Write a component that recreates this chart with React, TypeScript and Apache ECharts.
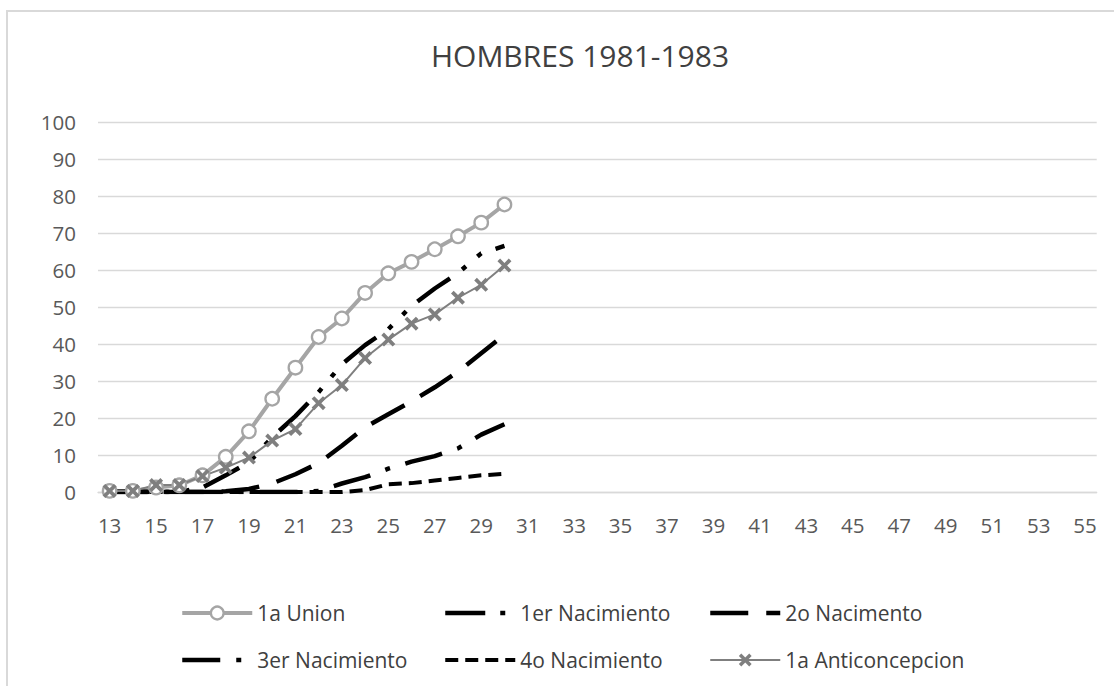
import React, { useEffect, useRef } from "react";
import * as echarts from "echarts";

const categories = [
  "13", "14", "15", "16", "17", "18", "19", "20", "21", "22", "23", "24", "25", "26", "27",
  "28", "29", "30", "31", "32", "33", "34", "35", "36", "37", "38", "39", "40", "41", "42",
  "43", "44", "45", "46", "47", "48", "49", "50", "51", "52", "53", "54", "55",
];

const union1a = [0.3, 0.3, 1.2, 1.8, 4.5, 9.5, 16.4, 25.2, 33.6, 41.9, 46.9, 53.8, 59.1, 62.2, 65.6, 69.1, 72.8, 77.7];
const nac1er = [0, 0, 0, 0, 1.2, 4.5, 8, 14.8, 20.5, 27, 34.5, 39.7, 44, 50.3, 55, 59.2, 64.5, 66.5];
const nac2o = [0, 0, 0, 0, 0, 0.2, 0.8, 2.3, 4.8, 7.8, 12.5, 17.5, 21, 24.5, 28.3, 32.5, 37.5, 42.5];
const nac3er = [0, 0, 0, 0, 0, 0, 0, 0, 0, 0.3, 2.3, 4.0, 6.3, 8.2, 9.7, 11.8, 15.5, 18.3];
const nac4o = [0, 0, 0, 0, 0, 0, 0, 0, 0, 0, 0, 0.5, 2.1, 2.4, 3.1, 3.8, 4.5, 4.9];
const anticoncepcion1a = [0.3, 0.3, 1.9, 1.9, 4.3, 6.6, 9.3, 13.9, 17, 24, 28.9, 36.2, 41.2, 45.5, 48, 52.5, 56, 61.2];

const yTicks = [0, 10, 20, 30, 40, 50, 60, 70, 80, 90, 100];

const TITLE = "HOMBRES 1981-1983";
const FONT = "'Open Sans', 'Noto Sans', sans-serif";

const X_SYMBOL =
  "path://M1.9,0L5,3.1L8.1,0L10,1.9L6.9,5L10,8.1L8.1,10L5,6.9L1.9,10L0,8.1L3.1,5L0,1.9Z";

type Sty = {
  name: string;
  data: number[];
  color: string;
  width: number;
  dash: number[] | "solid";
  symbol: string;
  symbolSize: number;
  itemStyle: any;
};

const styles: Sty[] = [
  {
    name: "1a Union",
    data: union1a,
    color: "#A5A5A5",
    width: 4,
    dash: "solid",
    symbol: "circle",
    symbolSize: 13.5,
    itemStyle: { color: "#FFFFFF", borderColor: "#A5A5A5", borderWidth: 2.3 },
  },
  {
    name: "1er Nacimiento",
    data: nac1er,
    color: "#000000",
    width: 4.5,
    dash: [40, 15, 5, 15, 5, 15],
    symbol: "none",
    symbolSize: 0,
    itemStyle: { color: "rgba(0,0,0,0)", opacity: 0, borderWidth: 0 },
  },
  {
    name: "2o Nacimento",
    data: nac2o,
    color: "#000000",
    width: 4.5,
    dash: [38, 18],
    symbol: "none",
    symbolSize: 0,
    itemStyle: { color: "rgba(0,0,0,0)", opacity: 0, borderWidth: 0 },
  },
  {
    name: "3er Nacimiento",
    data: nac3er,
    color: "#000000",
    width: 4.5,
    dash: [38, 16, 5, 16],
    symbol: "none",
    symbolSize: 0,
    itemStyle: { color: "rgba(0,0,0,0)", opacity: 0, borderWidth: 0 },
  },
  {
    name: "4o Nacimiento",
    data: nac4o,
    color: "#000000",
    width: 4,
    dash: [13, 7],
    symbol: "none",
    symbolSize: 0,
    itemStyle: { color: "rgba(0,0,0,0)", opacity: 0, borderWidth: 0 },
  },
  {
    name: "1a Anticoncepcion",
    data: anticoncepcion1a,
    color: "#7F7F7F",
    width: 2,
    dash: "solid",
    symbol: X_SYMBOL,
    symbolSize: 14,
    itemStyle: { color: "#7F7F7F" },
  },
];

const legendColumns = [
  { left: 180, names: ["1a Union", "3er Nacimiento"] },
  { left: 443, names: ["1er Nacimiento", "4o Nacimiento"] },
  { left: 708, names: ["2o Nacimento", "1a Anticoncepcion"] },
];

export default function App() {
  const ref = useRef<HTMLDivElement>(null);

  useEffect(() => {
    if (!ref.current) return;
    document.body.style.margin = "0";
    const chart = echarts.init(ref.current, null, { renderer: "svg" });

    const byName: Record<string, Sty> = {};
    styles.forEach((s) => (byName[s.name] = s));

    const legends = legendColumns.map((col) => ({
      show: true,
      orient: "vertical",
      left: col.left,
      top: 602.5,
      padding: 0,
      itemGap: 26,
      itemWidth: 70,
      itemHeight: 16,
      selectedMode: false,
      textStyle: { color: "#404040", fontSize: 21, fontFamily: FONT },
      data: col.names.map((n) => {
        const s = byName[n];
        return {
          name: n,
          lineStyle: { color: s.color, width: s.width, type: s.dash },
          itemStyle: s.itemStyle,
        };
      }),
    }));

    const option: any = {
      animation: false,
      backgroundColor: "#FFFFFF",
      title: {
        text: TITLE,
        left: 580,
        top: 40,
        padding: 0,
        textAlign: "center",
        textStyle: {
          color: "#404040",
          fontSize: 30,
          fontWeight: "normal",
          fontFamily: FONT,
        },
      },
      legend: legends,
      graphic: [
        {
          type: "rect",
          silent: true,
          z: -10,
          shape: { x: 7, y: 11, width: 1400, height: 1000 },
          style: { fill: "none", stroke: "#D9D9D9", lineWidth: 2 },
        },
      ],
      grid: {
        left: 98,
        right: 17.3,
        top: 122,
        bottom: 194,
        containLabel: false,
        outerBoundsMode: "none",
      },
      xAxis: {
        type: "category",
        data: categories,
        boundaryGap: true,
        axisLine: { show: true, lineStyle: { color: "#D9D9D9", width: 1.3 } },
        axisTick: { show: false },
        splitLine: { show: false },
        axisLabel: {
          interval: 1,
          margin: 22,
          color: "#595959",
          fontSize: 20.5,
          fontFamily: FONT,
        },
      },
      yAxis: {
        type: "value",
        min: yTicks[0],
        max: yTicks[yTicks.length - 1],
        interval: yTicks[1] - yTicks[0],
        axisLine: { show: false },
        axisTick: { show: false },
        splitLine: { show: true, lineStyle: { color: "#D9D9D9", width: 1.3 } },
        axisLabel: {
          margin: 22,
          color: "#595959",
          fontSize: 20.5,
          fontFamily: FONT,
        },
      },
      series: styles.map((s) => ({
        name: s.name,
        type: "line",
        data: s.data,
        symbol: s.symbol,
        symbolSize: s.symbolSize,
        showSymbol: s.symbol !== "none",
        showAllSymbol: true,
        lineStyle: { color: s.color, width: s.width, type: s.dash, cap: "butt", join: "round" },
        itemStyle: s.itemStyle,
        emphasis: { disabled: true },
        z: 2,
      })),
    };

    chart.setOption(option);
    return () => {
      chart.dispose();
    };
  }, []);

  return (
    <div
      ref={ref}
      style={{ position: "absolute", left: 0, top: 0, width: 1114, height: 686 }}
    />
  );
}
